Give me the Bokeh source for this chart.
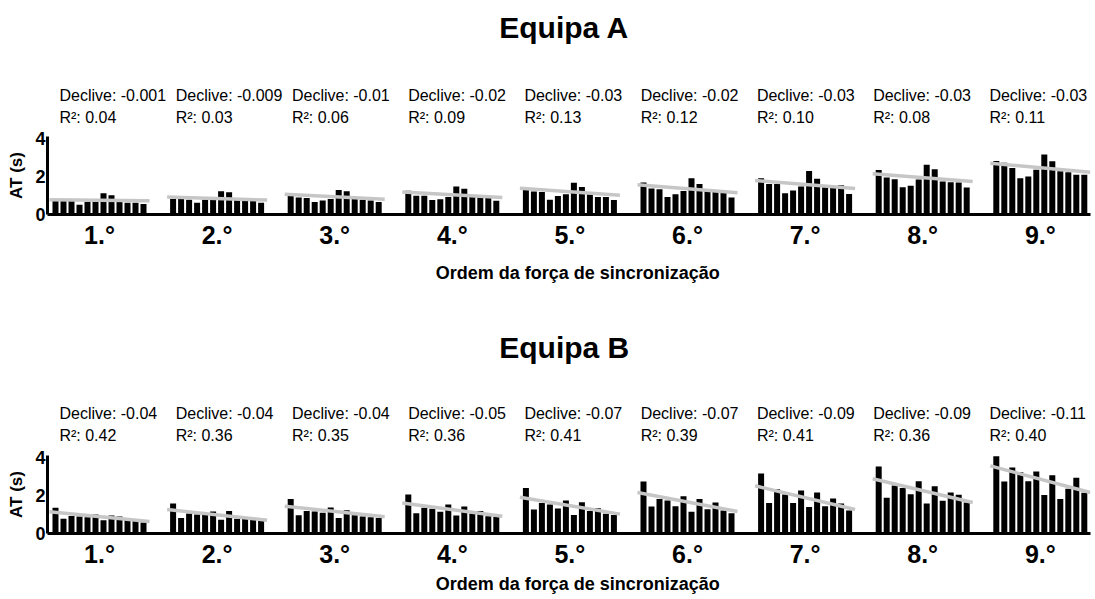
from bokeh.plotting import figure
from bokeh.models import Range1d, FixedTicker
from bokeh.layouts import column
from bokeh.embed import file_html
from bokeh.resources import INLINE
from bokeh.core.properties import value

# ---------------- data ----------------
group_labels = ["1.°", "2.°", "3.°", "4.°", "5.°", "6.°", "7.°", "8.°", "9.°"]
y_ticks = [0, 2, 4]
x_title = "Ordem da força de sincronização"
y_title = "AT (s)"

# Equipa A: 12 bars per group (AT in seconds)
a_g1 = [0.71, 0.71, 0.71, 0.51, 0.67, 0.67, 1.12, 1.01, 0.67, 0.62, 0.62, 0.55]
a_g2 = [0.82, 0.82, 0.78, 0.62, 0.78, 0.78, 1.22, 1.17, 0.78, 0.78, 0.74, 0.62]
a_g3 = [1.12, 0.89, 0.87, 0.66, 0.74, 0.82, 1.29, 1.22, 0.82, 0.78, 0.74, 0.66]
a_g4 = [1.25, 0.99, 0.99, 0.76, 0.80, 0.92, 1.47, 1.35, 0.92, 0.92, 0.89, 0.73]
a_g5 = [1.38, 1.21, 1.19, 0.78, 0.98, 1.06, 1.67, 1.45, 1.06, 0.92, 0.92, 0.76]
a_g6 = [1.68, 1.37, 1.33, 0.92, 1.06, 1.24, 1.91, 1.60, 1.24, 1.19, 1.13, 0.89]
a_g7 = [1.91, 1.61, 1.60, 1.12, 1.26, 1.47, 2.29, 1.88, 1.44, 1.40, 1.54, 1.08]
a_g8 = [2.34, 1.95, 1.86, 1.44, 1.51, 1.84, 2.62, 2.38, 1.74, 1.70, 1.68, 1.42]
a_g9 = [2.82, 2.73, 2.45, 1.91, 2.00, 2.36, 3.16, 2.80, 2.27, 2.23, 2.09, 2.09]
a_trend_start = [0.78, 0.92, 1.06, 1.19, 1.38, 1.56, 1.79, 2.15, 2.70]
a_trend_end = [0.72, 0.76, 0.80, 0.90, 1.01, 1.15, 1.37, 1.74, 2.22]
a_declive = ["-0.001", "-0.009", "-0.01", "-0.02", "-0.03", "-0.02", "-0.03", "-0.03", "-0.03"]
a_r2 = ["0.04", "0.03", "0.06", "0.09", "0.13", "0.12", "0.10", "0.08", "0.11"]

# Equipa B
b_g1 = [1.35, 0.78, 0.92, 0.90, 0.86, 1.00, 0.70, 0.95, 0.90, 0.72, 0.66, 0.58]
b_g2 = [1.58, 0.81, 1.05, 1.00, 1.00, 1.16, 0.72, 1.18, 0.77, 0.77, 0.72, 0.68]
b_g3 = [1.81, 0.96, 1.19, 1.16, 1.09, 1.37, 0.81, 1.23, 0.96, 0.89, 0.86, 0.82]
b_g4 = [2.05, 1.07, 1.35, 1.30, 1.14, 1.53, 0.95, 1.42, 1.05, 1.18, 0.91, 0.88]
b_g5 = [2.39, 1.26, 1.60, 1.53, 1.32, 1.74, 0.98, 1.65, 1.19, 1.33, 1.04, 0.98]
b_g6 = [2.74, 1.42, 1.81, 1.74, 1.44, 1.96, 1.14, 1.82, 1.28, 1.63, 1.21, 1.07]
b_g7 = [3.16, 1.60, 2.33, 2.05, 1.60, 2.26, 1.40, 2.16, 1.44, 1.84, 1.58, 1.21]
b_g8 = [3.53, 1.88, 2.53, 2.40, 2.07, 2.75, 1.58, 2.49, 1.72, 2.16, 2.04, 1.63]
b_g9 = [4.07, 2.74, 3.47, 3.23, 2.75, 3.26, 2.02, 3.07, 1.81, 2.35, 2.93, 2.14]
b_trend_start = [1.14, 1.26, 1.44, 1.60, 1.91, 2.16, 2.51, 2.88, 3.56]
b_trend_end = [0.63, 0.70, 0.88, 0.91, 1.02, 1.16, 1.26, 1.63, 2.16]
b_declive = ["-0.04", "-0.04", "-0.04", "-0.05", "-0.07", "-0.07", "-0.09", "-0.09", "-0.11"]
b_r2 = ["0.42", "0.36", "0.35", "0.36", "0.41", "0.39", "0.41", "0.36", "0.40"]

# ---------------- layout constants ----------------
FONT = "Liberation Sans"
STEP = 147          # group spacing in x units (one bar slot = 10 units)
SLOT = 10
TEXT_STEP = 146
SCALE = 0.8         # px per x unit
LEFT = 47           # frame left edge (px)
PX_PER_UNIT = 19.0  # px per second on y
FRAME_H = 78
TOP_B = 9
BOT_B = 38
FULL_W = 1095
FRAME_RIGHT = 1090
X0 = -10            # x value at frame left edge


def text_strip(height):
    """Full-width strip for titles / annotations, same x scale as the bars."""
    p = figure(width=FULL_W, height=height, output_backend="svg", toolbar_location=None,
               x_range=Range1d(X0, X0 + (FULL_W - LEFT) / SCALE), y_range=Range1d(0, height),
               x_axis_type=None, y_axis_type=None,
               min_border_left=LEFT, min_border_right=0, min_border_top=0,
               min_border_bottom=0)
    p.outline_line_color = None
    p.xgrid.visible = False
    p.ygrid.visible = False
    return p


def add_title(p, title, y):
    p.text(x=[639], y=[y], text=[title], text_font=value(FONT), text_font_size="30px",
           text_font_style="bold", text_color="black", text_align="center",
           text_baseline="middle")


def add_stats(p, declive, r2, y_dec, y_r2):
    n = len(declive)
    tx = [g * TEXT_STEP + 5 for g in range(n)]
    p.text(x=tx, y=[y_dec] * n, text=["Declive: " + d for d in declive],
           text_font=value(FONT), text_font_size="16px", text_color="black",
           text_align="left", text_baseline="middle")
    p.text(x=tx, y=[y_r2] * n, text=["R²: " + r for r in r2],
           text_font=value(FONT), text_font_size="16px", text_color="black",
           text_align="left", text_baseline="middle")


def add_xtitle(p, y):
    p.text(x=[656], y=[y], text=[x_title], text_font=value(FONT), text_font_size="18px",
           text_font_style="bold", text_color="black", text_align="center",
           text_baseline="middle")


def main_panel(groups, t_start, t_end):
    p = figure(width=FULL_W, height=TOP_B + FRAME_H + BOT_B, output_backend="svg",
               toolbar_location=None,
               x_range=Range1d(X0, X0 + (FRAME_RIGHT - LEFT) / SCALE),
               y_range=Range1d(0, FRAME_H / PX_PER_UNIT),
               min_border_left=LEFT, min_border_right=FULL_W - FRAME_RIGHT,
               min_border_top=TOP_B, min_border_bottom=BOT_B)
    p.outline_line_color = None
    p.xgrid.visible = False
    p.ygrid.visible = False

    xs, tops = [], []
    for g, vals in enumerate(groups):
        for i, v in enumerate(vals):
            xs.append(g * STEP + i * SLOT)
            tops.append(v)
    p.vbar(x=xs, top=tops, bottom=0, width=7.5, fill_color="black", line_color=None)

    n = len(groups)
    p.segment(x0=[g * STEP - 7.5 for g in range(n)], y0=t_start,
              x1=[g * STEP + 117.5 for g in range(n)], y1=t_end,
              line_color="#c6c6c6", line_width=3.5)

    ya = p.yaxis[0]
    ya.ticker = FixedTicker(ticks=y_ticks)
    ya.axis_line_width = 3
    ya.axis_line_color = "black"
    ya.major_tick_out = 0
    ya.major_tick_in = 0
    ya.minor_tick_out = 0
    ya.minor_tick_in = 0
    ya.major_label_standoff = 2
    ya.major_label_text_font = FONT
    ya.major_label_text_font_size = "18px"
    ya.major_label_text_font_style = "bold"
    ya.major_label_text_color = "black"
    ya.axis_label = y_title
    ya.axis_label_text_font = FONT
    ya.axis_label_text_font_size = "17px"
    ya.axis_label_text_font_style = "bold"
    ya.axis_label_text_color = "black"
    ya.axis_label_standoff = 6

    centers = [g * STEP + 55 for g in range(n)]
    xa = p.xaxis[0]
    xa.ticker = FixedTicker(ticks=centers)
    xa.major_label_overrides = {c: lab for c, lab in zip(centers, group_labels)}
    xa.axis_line_width = 3
    xa.axis_line_color = "black"
    xa.major_tick_out = 0
    xa.major_tick_in = 0
    xa.minor_tick_out = 0
    xa.minor_tick_in = 0
    xa.major_label_standoff = 6
    xa.major_label_text_font = FONT
    xa.major_label_text_font_size = "25px"
    xa.major_label_text_font_style = "bold"
    xa.major_label_text_color = "black"
    return p


# header A (page y 0-127)
H_A = 127
hA = text_strip(H_A)
add_title(hA, "Equipa A", H_A - 26.5)
add_stats(hA, a_declive, a_r2, H_A - 95.4, H_A - 117.4)

mA = main_panel([a_g1, a_g2, a_g3, a_g4, a_g5, a_g6, a_g7, a_g8, a_g9],
                a_trend_start, a_trend_end)

# middle strip (page y 252-446): x title of A, header of B
H_M = 194
mid = text_strip(H_M)
add_xtitle(mid, H_M - 20)
add_title(mid, "Equipa B", H_M - 94.5)
add_stats(mid, b_declive, b_r2, H_M - 161.4, H_M - 183.4)

mB = main_panel([b_g1, b_g2, b_g3, b_g4, b_g5, b_g6, b_g7, b_g8, b_g9],
                b_trend_start, b_trend_end)

# footer B (page y 571-599)
H_F = 28
fB = text_strip(H_F)
add_xtitle(fB, H_F - 12)

layout = column(hA, mA, mid, mB, fB)
open("out.html", "w").write(file_html(layout, INLINE))
